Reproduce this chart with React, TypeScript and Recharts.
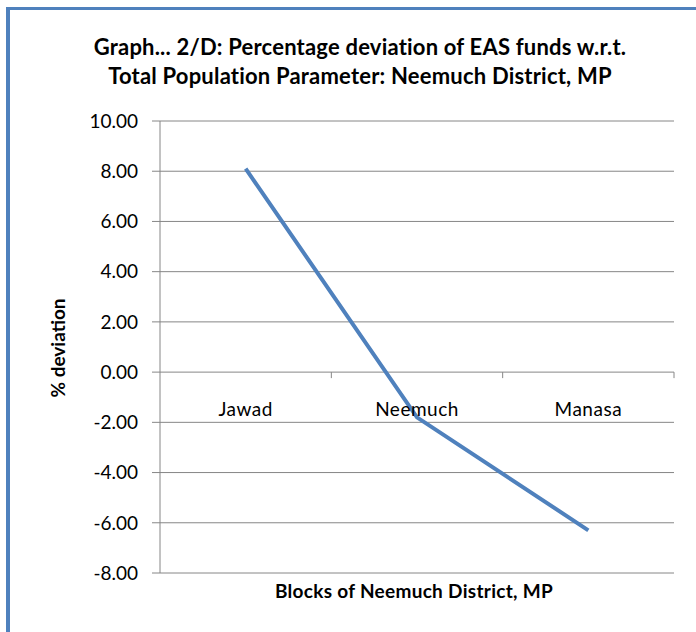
import React from 'react';
import { LineChart, Line, XAxis, YAxis, CartesianGrid } from 'recharts';

const categories = ['Jawad', 'Neemuch', 'Manasa'];
const deviation = [8.1, -1.8, -6.3];
const yTicks = [-8, -6, -4, -2, 0, 2, 4, 6, 8, 10];

const data = categories.map((name, i) => ({ name, value: deviation[i] }));

const W = 696;
const H = 632;
const M = { top: 121, right: 22, left: 0, bottom: 0 };
const Y_W = 160;
const X_H = 59;
const PLOT_W = W - M.left - M.right - Y_W;
const PLOT_H = H - M.top - M.bottom - X_H;
const Y_MIN = -8;
const Y_MAX = 10;
const ZERO_Y = M.top + (PLOT_H * Y_MAX) / (Y_MAX - Y_MIN);
const FONT = 'Lato, "Open Sans", sans-serif';
const GRID = '#868686';
const BLUE = '#4F81BD';

const CatTick = (props: any) => {
  const { x, payload } = props;
  const band = PLOT_W / categories.length;
  return (
    <g>
      <line x1={x + band / 2} x2={x + band / 2} y1={ZERO_Y} y2={ZERO_Y + 6} stroke={GRID} strokeWidth={1} />
      <text x={x} y={ZERO_Y + 44} textAnchor="middle" fontFamily={FONT} fontSize={19} letterSpacing={0.5} fill="#000">
        {payload.value}
      </text>
    </g>
  );
};

const YLabel = (props: any) => {
  const vb = props.viewBox || {};
  const cy = vb.y + vb.height / 2 + 1;
  return (
    <text x={57} y={cy} transform={`rotate(-90 57 ${cy})`} textAnchor="middle" dominantBaseline="central" fontFamily={FONT} fontWeight={700} fontSize={19} fill="#000">
      % deviation
    </text>
  );
};

const XLabel = (props: any) => {
  const vb = props.viewBox || {};
  return (
    <text x={vb.x + vb.width / 2 - 3} y={vb.y + 25} textAnchor="middle" fontFamily={FONT} fontWeight={700} fontSize={19} letterSpacing={0.3} fill="#000">
      Blocks of Neemuch District, MP
    </text>
  );
};

export default function App() {
  return (
    <div style={{ position: 'absolute', left: 0, top: 0, width: W, height: H, background: '#fff', overflow: 'hidden' }}>
      <div style={{ position: 'absolute', left: 6, top: 7, width: 720, height: 660, borderLeft: `4px solid ${BLUE}`, borderTop: `3px solid ${BLUE}` }} />
      <div style={{ position: 'absolute', left: 0, top: 32, width: 720, textAlign: 'center', fontFamily: FONT, fontWeight: 700, fontSize: 22, letterSpacing: 0.2, lineHeight: '29px', color: '#000' }}>
        Graph... 2/D: Percentage deviation of EAS funds w.r.t.
        <br />
        Total Population Parameter: Neemuch District, MP
      </div>
      <div style={{ position: 'absolute', left: 0, top: 0 }}>
        <LineChart width={W} height={H} data={data} margin={M}>
          <CartesianGrid horizontal={true} vertical={false} stroke={GRID} strokeWidth={1} />
          <XAxis
            dataKey="name"
            type="category"
            scale="band"
            height={X_H}
            axisLine={false}
            tickLine={false}
            tick={<CatTick />}
            interval={0}
            label={<XLabel />}
          />
          <YAxis
            width={Y_W}
            domain={[Y_MIN, Y_MAX]}
            ticks={yTicks}
            interval={0}
            tickFormatter={(v: number) => v.toFixed(2)}
            axisLine={{ stroke: GRID }}
            tickLine={{ stroke: GRID }}
            tickSize={8}
            tickMargin={14}
            tick={{ fontFamily: FONT, fontSize: 19, fill: '#000' }}
            label={<YLabel />}
          />
          <Line type="linear" dataKey="value" stroke={BLUE} strokeWidth={4} dot={false} isAnimationActive={false} />
        </LineChart>
      </div>
    </div>
  );
}
